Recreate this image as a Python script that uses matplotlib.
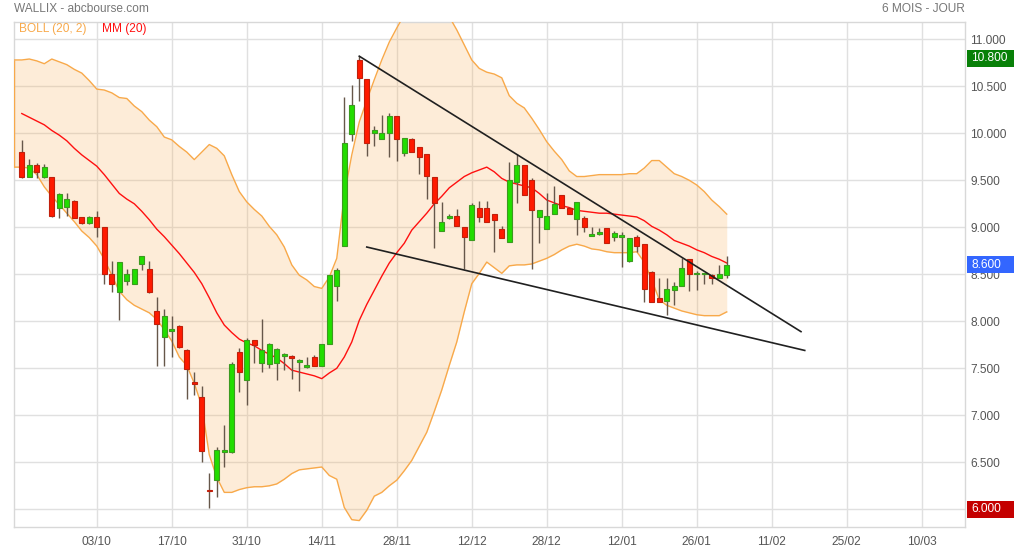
import numpy as np
import matplotlib
matplotlib.use("Agg")
import matplotlib.pyplot as plt
from matplotlib.transforms import blended_transform_factory
from matplotlib.patches import Rectangle

plt.rcParams['font.family'] = ['Liberation Sans', 'DejaVu Sans']

# ---------------- data ----------------
# trading-day index (0 = 03/10)
first_day = -10
opens = [9.80, 9.54, 9.66, 9.53, 9.53, 9.20, 9.22, 9.28, 9.11, 9.05,
         9.11, 9.00, 8.50, 8.31, 8.43, 8.40, 8.61, 8.56, 8.11, 7.83,
         7.90, 7.95, 7.69, 7.35, 7.19, 6.21, 6.31, 6.61, 6.61, 7.67,
         7.38, 7.80, 7.56, 7.55, 7.56, 7.63, 7.62, 7.57, 7.51, 7.62,
         7.52, 7.76, 8.38, 8.80, 9.99, 10.78, 10.58, 10.00, 9.94, 10.00,
         10.18, 9.79, 9.94, 9.85, 9.78, 9.53, 8.96, 9.10, 9.12, 9.00,
         8.86, 9.20, 9.20, 9.14, 8.98, 8.84, 9.485, 9.66, 9.50, 9.11,
         8.98, 9.14, 9.34, 9.20, 9.085, 9.10, 8.91, 8.93, 8.99, 8.90,
         8.90, 8.645, 8.90, 8.82, 8.52, 8.245, 8.22, 8.33, 8.38, 8.66,
         8.50, 8.50, 8.49, 8.46, 8.49]
highs = [9.93, 9.73, 9.68, 9.67, 9.54, 9.37, 9.36, 9.29, 9.11, 9.12,
         9.17, 9.00, 8.64, 8.63, 8.56, 8.56, 8.69, 8.64, 8.26, 8.13,
         8.06, 7.96, 7.71, 7.46, 7.31, 6.39, 6.66, 6.90, 7.57, 7.72,
         7.82, 7.80, 8.02, 7.77, 7.72, 7.66, 7.64, 7.60, 7.62, 7.64,
         7.76, 8.49, 8.57, 10.39, 10.51, 10.82, 10.58, 10.08, 10.195, 10.22,
         10.18, 9.95, 9.95, 9.85, 9.78, 9.53, 9.27, 9.14, 9.19, 9.00,
         9.26, 9.28, 9.28, 9.14, 9.01, 9.69, 9.78, 9.66, 9.52, 9.18,
         9.37, 9.44, 9.34, 9.22, 9.27, 9.12, 9.00, 8.99, 8.99, 8.96,
         8.95, 8.89, 8.92, 8.82, 8.54, 8.46, 8.46, 8.42, 8.67, 8.66,
         8.53, 8.51, 8.50, 8.60, 8.695]
lows = [9.52, 9.53, 9.52, 9.52, 9.11, 9.10, 9.12, 9.10, 9.03, 9.04,
        8.90, 8.40, 8.31, 8.01, 8.39, 8.40, 8.55, 8.30, 7.52, 7.52,
        7.62, 7.72, 7.17, 7.22, 6.50, 6.01, 6.13, 6.45, 6.60, 7.25,
        7.11, 7.56, 7.46, 7.50, 7.38, 7.48, 7.39, 7.26, 7.50, 7.52,
        7.52, 7.76, 8.22, 8.80, 9.92, 10.34, 9.76, 9.865, 9.94, 9.75,
        9.71, 9.76, 9.80, 9.57, 9.30, 8.78, 8.96, 9.09, 9.01, 8.56,
        8.86, 9.06, 9.06, 8.74, 8.89, 8.84, 9.26, 9.34, 8.56, 8.83,
        8.98, 9.14, 9.20, 9.14, 8.92, 8.95, 8.91, 8.92, 8.83, 8.85,
        8.58, 8.63, 8.74, 8.20, 8.21, 8.20, 8.07, 8.17, 8.38, 8.32,
        8.33, 8.40, 8.40, 8.46, 8.46]
closes = [9.53, 9.66, 9.59, 9.64, 9.12, 9.35, 9.30, 9.10, 9.05, 9.11,
          9.00, 8.50, 8.40, 8.63, 8.50, 8.56, 8.69, 8.31, 7.97, 8.06,
          7.90, 7.73, 7.49, 7.33, 6.62, 6.19, 6.63, 6.61, 7.55, 7.46,
          7.80, 7.75, 7.69, 7.76, 7.70, 7.63, 7.61, 7.585, 7.53, 7.52,
          7.76, 8.49, 8.55, 9.90, 10.30, 10.585, 9.90, 10.04, 10.00, 10.18,
          9.94, 9.95, 9.80, 9.75, 9.55, 9.26, 9.06, 9.10, 9.01, 8.90,
          9.24, 9.11, 9.06, 9.08, 8.89, 9.50, 9.66, 9.34, 9.18, 9.18,
          9.12, 9.25, 9.20, 9.14, 9.27, 9.00, 8.93, 8.93, 8.83, 8.94,
          8.905, 8.89, 8.80, 8.34, 8.21, 8.20, 8.34, 8.38, 8.57, 8.50,
          8.50, 8.50, 8.46, 8.50, 8.60]

# Bollinger (20, 2) bands, from day -11
band_first_day = -11
boll_upper = [10.78, 10.78, 10.79, 10.77, 10.74, 10.79, 10.76, 10.73, 10.68, 10.64,
              10.56, 10.47, 10.46, 10.43, 10.38, 10.37, 10.29, 10.23, 10.14, 10.07,
              9.96, 9.93, 9.86, 9.80, 9.72, 9.80, 9.88, 9.84, 9.76, 9.56,
              9.38, 9.27, 9.19, 9.12, 9.01, 8.92, 8.79, 8.60, 8.49, 8.44,
              8.37, 8.35, 8.47, 8.67, 9.34, 9.77, 10.12, 10.35, 10.57, 10.78,
              10.97, 11.12, 11.26, 11.33, 11.39, 11.40, 11.38, 11.33, 11.24, 11.10,
              10.94, 10.78, 10.69, 10.65, 10.63, 10.59, 10.40, 10.32, 10.27, 10.16,
              10.04, 9.91, 9.81, 9.72, 9.60, 9.54, 9.54, 9.55, 9.56, 9.56,
              9.56, 9.56, 9.57, 9.57, 9.63, 9.71, 9.71, 9.64, 9.57, 9.54,
              9.50, 9.45, 9.38, 9.29, 9.22, 9.14]
boll_lower = [9.64, 9.64, 9.63, 9.56, 9.43, 9.33, 9.24, 9.15, 9.06, 8.96,
              8.89, 8.80, 8.66, 8.49, 8.32, 8.23, 8.17, 8.13, 8.09, 8.02,
              7.91, 7.79, 7.62, 7.53, 7.34, 7.10, 6.58, 6.34, 6.18, 6.18,
              6.21, 6.23, 6.24, 6.24, 6.25, 6.27, 6.32, 6.38, 6.42, 6.43,
              6.44, 6.45, 6.36, 6.32, 6.02, 5.89, 5.88, 5.99, 6.14, 6.18,
              6.25, 6.31, 6.41, 6.52, 6.67, 6.82, 7.04, 7.27, 7.53, 7.78,
              8.10, 8.40, 8.51, 8.63, 8.57, 8.51, 8.59, 8.60, 8.60, 8.61,
              8.64, 8.67, 8.71, 8.76, 8.80, 8.82, 8.80, 8.77, 8.76, 8.74,
              8.73, 8.73, 8.73, 8.74, 8.63, 8.44, 8.23, 8.17, 8.14, 8.11,
              8.09, 8.07, 8.06, 8.06, 8.06, 8.10]
# MM (20), from day -10
mm20 = [10.21, 10.17, 10.13, 10.09, 10.03, 9.98, 9.92, 9.84, 9.77, 9.71,
        9.65, 9.56, 9.46, 9.36, 9.30, 9.25, 9.17, 9.08, 8.98, 8.90,
        8.81, 8.72, 8.62, 8.52, 8.40, 8.25, 8.09, 7.96, 7.88, 7.81,
        7.77, 7.74, 7.69, 7.65, 7.61, 7.55, 7.48, 7.46, 7.44, 7.42,
        7.39, 7.45, 7.50, 7.62, 7.78, 8.01, 8.18, 8.33, 8.48, 8.62,
        8.73, 8.83, 8.97, 9.06, 9.15, 9.25, 9.33, 9.42, 9.48, 9.54,
        9.58, 9.61, 9.64, 9.59, 9.52, 9.48, 9.46, 9.44, 9.42, 9.36,
        9.29, 9.26, 9.23, 9.21, 9.18, 9.17, 9.16, 9.15, 9.15, 9.14,
        9.13, 9.12, 9.11, 9.07, 9.01, 8.97, 8.92, 8.86, 8.83, 8.80,
        8.76, 8.73, 8.69, 8.66, 8.62]

# trend lines (day, price)
trend_upper_days = [35, 93.9]
trend_upper_prices = [10.82, 7.89]
trend_lower_days = [36, 94.4]
trend_lower_prices = [8.79, 7.69]

tick_days = [0, 10, 20, 30, 40, 50, 60, 70, 80, 90, 100, 110]
tick_labels = ['03/10', '17/10', '31/10', '14/11', '28/11', '12/12',
               '28/12', '12/01', '26/01', '11/02', '25/02', '10/03']
y_ticks = [6.0, 6.5, 7.0, 7.5, 8.0, 8.5, 9.0, 9.5, 10.0, 10.5, 11.0]

period_high = 10.80
last_price = 8.60
period_low = 6.00

title_left = 'WALLIX - abcbourse.com'
title_right = '6 MOIS - JOUR'

# ---------------- figure ----------------
W, H = 1014, 550
fig = plt.figure(figsize=(W / 100, H / 100), dpi=100)
ax = fig.add_axes([14.3 / W, 1 - 526.7 / H, (965 - 14.3) / W, (526.7 - 21.7) / H])

ax.set_xlim(-11, 115.77)
ax.set_ylim(5.815, 11.187)

grid_col = '#e0e0e0'
ax.set_xticks(tick_days)
ax.set_xticklabels(tick_labels)
ax.set_yticks(y_ticks)
ax.set_yticklabels(['%.3f' % v for v in y_ticks])
ax.yaxis.tick_right()
ax.tick_params(axis='both', length=0, labelsize=8.6, colors='#555555')
ax.tick_params(axis='x', pad=6.5)
ax.tick_params(axis='y', pad=3.8)
ax.grid(True, color=grid_col, linewidth=1.0)
for s in ax.spines.values():
    s.set_color('#d8d8d8')
    s.set_linewidth(1.0)

# bands
bd = np.arange(band_first_day, band_first_day + len(boll_upper))
ax.fill_between(bd, boll_lower, boll_upper, color=(0.98, 0.67, 0.31), alpha=0.22,
                linewidth=0, zorder=2)
band_col = '#f8a94a'
ax.plot(bd, boll_upper, color=band_col, lw=1.0, zorder=3)
ax.plot(bd, boll_lower, color=band_col, lw=1.0, zorder=3)
ax.vlines(bd[0], boll_lower[0], boll_upper[0], color=band_col, lw=1.0, zorder=3)

md = np.arange(first_day, first_day + len(mm20))
ax.plot(md, mm20, color='#ff1010', lw=1.0, zorder=3)

# candles
days = np.arange(first_day, first_day + len(opens))
o = np.array(opens); c = np.array(closes); h = np.array(highs); l = np.array(lows)
up = c >= o
ax.vlines(days, l, h, color='#66574a', lw=1.0, zorder=4)
bottoms = np.minimum(o, c)
heights = np.maximum(np.abs(c - o), 0.018)
face = np.where(up, '#22dd00', '#ff1a00')
edge = np.where(up, '#3c9a20', '#c0200c')
ax.bar(days, heights, bottom=bottoms, width=0.62, color=face, edgecolor=edge,
       linewidth=0.8, zorder=5)

# trendlines
ax.plot(trend_upper_days, trend_upper_prices, color='#202020', lw=1.2, zorder=6)
ax.plot(trend_lower_days, trend_lower_prices, color='#202020', lw=1.2, zorder=6)

# legend strip
ax.text(19 / W, 1 - 29 / H, 'BOLL (20, 2)', transform=fig.transFigure, fontsize=8.6,
        color=band_col, va='center', ha='left', zorder=10)
ax.text(102 / W, 1 - 29 / H, 'MM (20)', transform=fig.transFigure, fontsize=8.6,
        color='#ff1010', va='center', ha='left', zorder=10)

# titles
fig.text(14 / W, 1 - 9 / H, title_left, fontsize=8.6, color='#777777', va='center', ha='left')
fig.text(965 / W, 1 - 9 / H, title_right, fontsize=8.6, color='#777777', va='center', ha='right')

# price boxes
tr = blended_transform_factory(fig.transFigure, ax.transData)
box_h = 17.0 / 94.0
for val, col in [(period_high, '#088008'), (last_price, '#3366ff'), (period_low, '#c40000')]:
    ax.add_patch(Rectangle((967 / W, val - box_h / 2), (1014 - 967) / W, box_h,
                           transform=tr, facecolor=col, edgecolor='none',
                           clip_on=False, zorder=19))
    ax.text(971 / W, val, '%.3f' % val, transform=tr, fontsize=8.6, color='white',
            va='center', ha='left', zorder=20, clip_on=False)

fig.savefig('out.png', dpi=100)
